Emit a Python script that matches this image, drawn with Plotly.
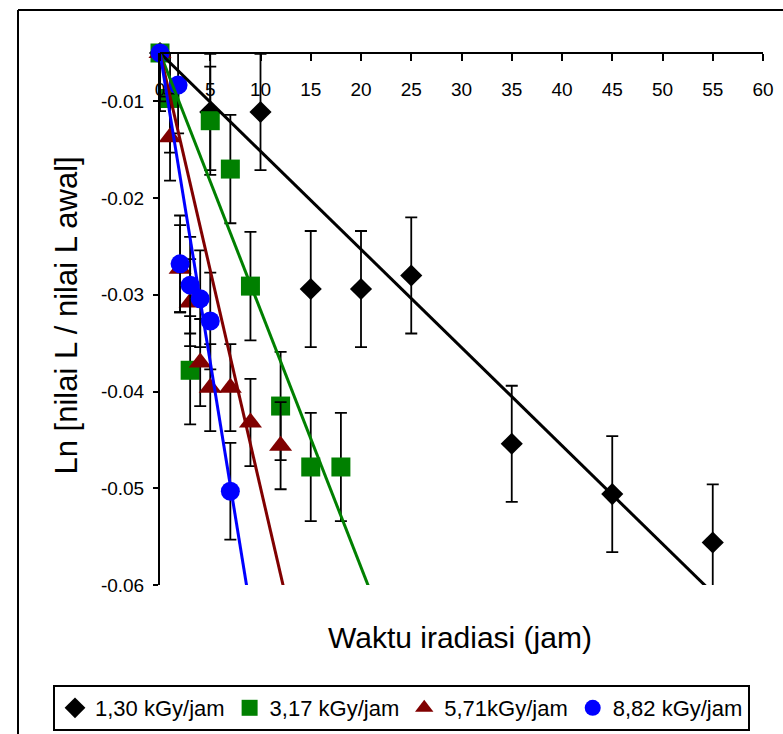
import plotly.graph_objects as go

# ---- data ----
x_130 = [0, 5, 10, 15, 20, 25, 35, 45, 55]
y_130 = [-0.005, -0.0111, -0.0111, -0.0294, -0.0294, -0.0280, -0.0454, -0.0506, -0.0556]
err_130 = [0, 0.006, 0.006, 0.006, 0.006, 0.006, 0.006, 0.006, 0.006]
errm_130 = [0.006, 0.006, 0.006, 0.006, 0.006, 0.006, 0.006, 0.006, 0.006]

x_317 = [0, 1, 3, 5, 7, 9, 12, 15, 18]
y_317 = [-0.005, -0.0097, -0.0378, -0.0120, -0.0170, -0.0291, -0.0415, -0.0478, -0.0478]
err_317 = [0, 0.0056, 0.0056, 0.0056, 0.0056, 0.0056, 0.0056, 0.0056, 0.0056]
errm_317 = [0.0056, 0.0056, 0.0056, 0.0056, 0.0056, 0.0056, 0.0056, 0.0056, 0.0056]

x_571 = [0, 1, 2, 3, 4, 5, 7, 9, 12]
y_571 = [-0.005, -0.0137, -0.0273, -0.0308, -0.0370, -0.0396, -0.0396, -0.0432, -0.0456]
err_571 = [0, 0.0045, 0.0045, 0.0045, 0.0045, 0.0045, 0.0045, 0.0045, 0.0045]
errm_571 = [0.0045, 0.0045, 0.0045, 0.0045, 0.0045, 0.0045, 0.0045, 0.0045, 0.0045]

x_882 = [0, 1.8, 2, 3, 4, 5, 7]
y_882 = [-0.005, -0.0083, -0.0268, -0.0290, -0.0304, -0.0327, -0.0503]
err_882 = [0, 0.005, 0.005, 0.005, 0.005, 0.005, 0.005]
errm_882 = [0.005, 0.005, 0.005, 0.005, 0.005, 0.005, 0.005]

# linear trend lines (intercept, slope)
trend_intercept = [-0.0050, -0.0050, -0.0050, -0.0050]
trend_slope = [-0.001015, -0.002658, -0.004493, -0.00639]

series_names = ["1,30 kGy/jam", "3,17 kGy/jam", "5,71kGy/jam", "8,82 kGy/jam"]
x_ticks = [0, 5, 10, 15, 20, 25, 30, 35, 40, 45, 50, 55, 60]
y_tickvals = [-0.01, -0.02, -0.03, -0.04, -0.05, -0.06]
y_ticktext = ["-0.01", "-0.02", "-0.03", "-0.04", "-0.05", "-0.06"]

# ---- styles ----
colors = ["#000000", "#008000", "#800000", "#0000FF"]
symbols = ["diamond", "square", "triangle-up", "circle"]
sizes = [17, 19, 20, 19]

FONT = "Liberation Sans, Arial, sans-serif"

fig = go.Figure()

xs = [x_130, x_317, x_571, x_882]
ys = [y_130, y_317, y_571, y_882]
ep = [err_130, err_317, err_571, err_882]
em = [errm_130, errm_317, errm_571, errm_882]

for i in range(4):
    fig.add_trace(go.Scatter(
        x=xs[i], y=ys[i], mode="markers", name=series_names[i],
        marker=dict(symbol=symbols[i], size=sizes[i], color=colors[i], line=dict(width=0)),
        error_y=dict(type="data", symmetric=False, array=ep[i], arrayminus=em[i],
                     color="black", thickness=1.8, width=6),
        cliponaxis=False,
    ))

for i in range(4):
    tx = [0, 60]
    ty = [trend_intercept[i] + trend_slope[i] * t for t in tx]
    fig.add_trace(go.Scatter(
        x=tx, y=ty, mode="lines", showlegend=False,
        line=dict(color=colors[i], width=3), hoverinfo="skip",
    ))

# pixel geometry helpers for decoration
L, R, T, B = 160, 20, 53, 149
W, H = 783, 734
pw, ph = W - L - R, H - T - B


def px(xp):
    return (xp - L) / pw


def py(yp):
    return (H - B - yp) / ph


fig.update_layout(
    width=W, height=H,
    margin=dict(l=L, r=R, t=T, b=B, pad=0, autoexpand=False),
    paper_bgcolor="white", plot_bgcolor="white",
    font=dict(family=FONT, color="black"),
    showlegend=True,
    legend=dict(
        orientation="h", xref="paper", yref="paper",
        x=px(53), y=py(685), xanchor="left", yanchor="top",
        font=dict(size=22, family=FONT), bordercolor="black", borderwidth=2,
        bgcolor="white", itemwidth=30, tracegroupgap=0,
    ),
    xaxis=dict(
        range=[0, 60], tickvals=x_ticks, anchor="free", position=1, side="bottom",
        showline=True, linecolor="black", linewidth=2, showgrid=False, zeroline=False,
        ticks="outside", ticklen=7, tickwidth=2, tickcolor="black",
        tickfont=dict(size=19, family=FONT), ticklabelstandoff=12,
    ),
    yaxis=dict(
        range=[-0.06, -0.005], tickvals=y_tickvals, ticktext=y_ticktext,
        showline=True, linecolor="black", linewidth=2, showgrid=False, zeroline=False,
        ticks="outside", ticklen=5, tickwidth=2, tickcolor="black",
        tickfont=dict(size=19, family=FONT), ticklabelstandoff=5,
    ),
    annotations=[
        dict(text="Waktu iradiasi (jam)", xref="paper", yref="paper",
             x=px(460), y=py(637), xanchor="center", yanchor="middle",
             showarrow=False, font=dict(size=30, family=FONT)),
        dict(text="Ln [nilai L / nilai L awal]", xref="paper", yref="paper",
             x=px(66), y=py(315.5), xanchor="center", yanchor="middle", textangle=-90,
             showarrow=False, font=dict(size=31, family=FONT)),
    ],
    shapes=[
        dict(type="line", xref="paper", yref="paper", x0=px(18), x1=px(18),
             y0=py(10), y1=py(760), line=dict(color="black", width=2)),
        dict(type="line", xref="paper", yref="paper", x0=px(18), x1=px(800),
             y0=py(10), y1=py(10), line=dict(color="black", width=2)),
    ],
)

fig.write_html("out.html")
